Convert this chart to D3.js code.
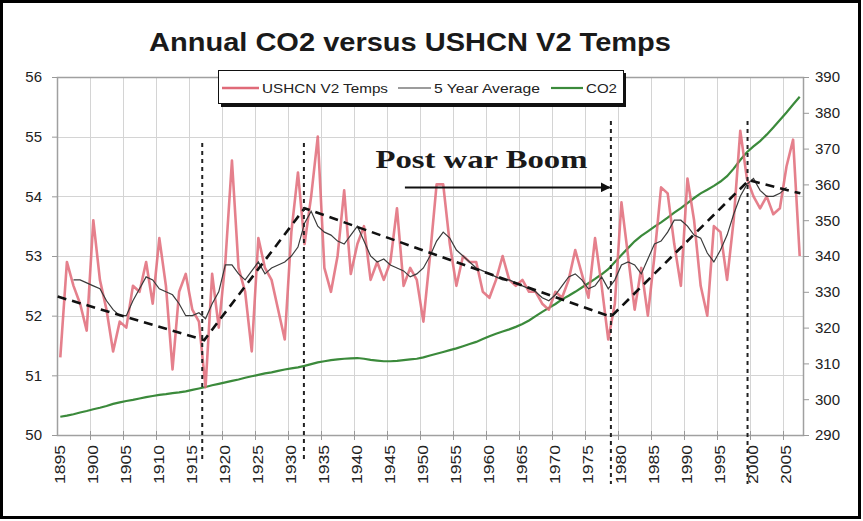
<!DOCTYPE html>
<html>
<head>
<meta charset="utf-8">
<script src="https://cdn.jsdelivr.net/npm/d3@7"></script>
<style>
  body { margin: 0; background: #fff; }
  svg { display: block; font-family: "Liberation Sans", Arial, sans-serif; }
</style>
</head>
<body>
<div id="chart"></div>
<script>
'use strict';

// data
var firstYear = 1895;
var lastYear = 2007;

// annual USHCN V2 temps (deg F), 1895..2007
var temps = [
  51.3, 52.9, 52.5, 52.2, 51.75, 53.6, 52.6, 52.1, 51.4, 51.9,
  51.8, 52.5, 52.4, 52.9, 52.2, 53.3, 52.5, 51.1, 52.4, 52.7,
  52.1, 51.9, 50.8, 52.7, 51.8, 52.9, 54.6, 52.8, 52.4, 51.4,
  53.3, 52.8, 52.6, 52.1, 51.6, 53.4, 54.4, 53.2, 54.0, 55.0,
  52.8, 52.4, 53.0, 54.1, 52.7, 53.2, 53.5, 52.6, 52.9, 52.6,
  52.9, 53.8, 52.5, 52.8, 52.6, 51.9, 53.0, 54.2, 54.2, 53.2,
  52.5, 53.0, 52.9, 52.9, 52.4, 52.3, 52.6, 53.0, 52.6, 52.5,
  52.6, 52.4, 52.4, 52.2, 52.1, 52.4, 52.3, 52.6, 53.1, 52.7,
  52.3, 53.3, 52.5, 51.6, 52.2, 53.9, 53.0, 52.1, 52.8, 52.0,
  53.0, 54.15, 54.05, 53.2, 52.5, 54.3, 53.6, 52.5, 52.0, 53.5,
  53.4, 52.6, 53.6, 55.1, 54.3, 54.0, 53.8, 54.0, 53.7, 53.8,
  54.5, 54.95, 53.0
];

// 5 year average, 1897..2005
var avgFirstYear = 1897;
var avg5 = [
  52.6, 52.6, 52.55, 52.5, 52.45, 52.25, 52.1, 52.0, 52.0, 52.25,
  52.45, 52.65, 52.6, 52.45, 52.4, 52.35, 52.2, 52.0, 52.0, 52.05,
  51.95, 52.2, 52.4, 52.85, 52.85, 52.7, 52.6, 52.75, 52.9, 52.7,
  52.8, 52.85, 52.9, 53.0, 53.15, 53.55, 53.75, 53.5, 53.4, 53.35,
  53.25, 53.2, 53.35, 53.5, 53.25, 53.0, 52.9, 52.95, 52.85, 52.8,
  52.75, 52.65, 52.7, 52.8, 53.0, 53.25, 53.4, 53.3, 53.1, 53.0,
  52.9, 52.8, 52.75, 52.7, 52.65, 52.6, 52.6, 52.55, 52.5, 52.45,
  52.4, 52.3, 52.25, 52.35, 52.5, 52.65, 52.7, 52.6, 52.45, 52.5,
  52.65, 52.45, 52.6, 52.85, 52.9, 52.85, 52.7, 52.95, 53.2, 53.25,
  53.4, 53.6, 53.6, 53.5, 53.35, 53.3, 53.05, 52.9, 53.1, 53.35,
  53.7, 54.0, 54.2, 54.3, 54.1, 54.0, 54.0, 54.05, 54.15
];

// CO2 (ppm), 1895..2007
var co2 = [
  295.1, 295.4, 295.8, 296.3, 296.7, 297.2, 297.6, 298.1, 298.7, 299.1,
  299.5, 299.8, 300.2, 300.6, 300.9, 301.2, 301.4, 301.7, 301.9, 302.2,
  302.6, 303.0, 303.4, 303.9, 304.3, 304.7, 305.1, 305.5, 306.0, 306.4,
  306.8, 307.2, 307.5, 307.9, 308.3, 308.6, 308.9, 309.3, 309.8, 310.3,
  310.6, 310.9, 311.1, 311.3, 311.4, 311.5, 311.3, 311.0, 310.8, 310.6,
  310.6, 310.7, 310.9, 311.1, 311.3, 311.7, 312.2, 312.7, 313.2, 313.7,
  314.2, 314.8, 315.4, 316.0, 316.8, 317.6, 318.3, 318.9, 319.5, 320.2,
  321.0, 322.0, 323.2, 324.4, 325.5, 326.6, 327.9, 328.9, 330.0, 331.2,
  332.4, 333.6, 334.9, 336.3, 338.3, 340.3, 342.2, 344.1, 345.6, 346.9,
  348.2, 349.4, 350.7, 352.1, 353.4, 354.8, 356.2, 357.5, 358.5, 359.6,
  360.8, 362.3, 364.4, 366.8, 369.0, 370.6, 372.1, 373.9, 375.9, 378.0,
  380.1, 382.3, 384.5
];

// hand drawn trend (dashed) : [year, temp]
var trendYears = [1894.6, 1916.8, 1932.0, 1978.4, 1999.3, 2007.1];
var trendTemps = [52.32, 51.59, 53.8, 51.98, 54.27, 54.05];

// vertical dashed markers
var markerYears = [1916.5, 1931.9, 1978.4, 1999.1];

// axis ticks
var leftTicks = [50, 51, 52, 53, 54, 55, 56];
var rightTicks = [290, 300, 310, 320, 330, 340, 350, 360, 370, 380, 390];
var labelYears = d3.range(1895, 2006, 5);

var width = 863;
var height = 521;
var plot = { left: 57, right: 803, top: 77, bottom: 435 };

var svg = d3.select('#chart')
  .append('svg')
  .attr('width', width)
  .attr('height', height);

// scales (years as continuous, each year sits in the middle of its slot)
var x = d3.scaleLinear()
  .domain([firstYear - 0.5, lastYear + 0.5])
  .range([plot.left, plot.right]);
var yL = d3.scaleLinear().domain([50, 56]).range([plot.bottom, plot.top]);
var yR = d3.scaleLinear().domain([290, 390]).range([plot.bottom, plot.top]);

// outer frame
svg.append('rect')
  .attr('x', 1.5).attr('y', 1.5)
  .attr('width', 858).attr('height', 516)
  .attr('fill', '#fff')
  .attr('stroke', '#000')
  .attr('stroke-width', 3);

// title
svg.append('text')
  .attr('x', 410).attr('y', 51)
  .attr('text-anchor', 'middle')
  .attr('font-size', 25)
  .attr('font-weight', 'bold')
  .attr('fill', '#1a1a1a')
  .attr('textLength', 522)
  .attr('lengthAdjust', 'spacingAndGlyphs')
  .text('Annual CO2 versus USHCN V2 Temps');

// grid
var grid = svg.append('g').attr('stroke', '#d4d4d4').attr('stroke-width', 1);
grid.selectAll('.hg')
  .data([51, 52, 53, 54, 55])
  .enter().append('line')
  .attr('x1', plot.left).attr('x2', plot.right)
  .attr('y1', function(d) { return Math.round(yL(d)) + 0.5; })
  .attr('y2', function(d) { return Math.round(yL(d)) + 0.5; });
var gridYears = d3.range(firstYear + 4.5, lastYear, 5);
grid.selectAll('.vg')
  .data(gridYears)
  .enter().append('line')
  .attr('y1', plot.top).attr('y2', plot.bottom)
  .attr('x1', function(d) { return Math.round(x(d)) + 0.5; })
  .attr('x2', function(d) { return Math.round(x(d)) + 0.5; });

// plot border / axes lines
svg.append('rect')
  .attr('x', plot.left + 0.5).attr('y', plot.top + 0.5)
  .attr('width', plot.right - plot.left).attr('height', plot.bottom - plot.top)
  .attr('fill', 'none')
  .attr('stroke', '#a0a0a0')
  .attr('stroke-width', 1.5);

// left axis
var leftAxis = d3.axisLeft(yL).tickValues(leftTicks).tickSize(5).tickPadding(10)
  .tickFormat(d3.format('d'));
var gl = svg.append('g')
  .attr('transform', 'translate(' + plot.left + ',0)')
  .call(leftAxis);
gl.select('.domain').remove();
gl.selectAll('line').attr('stroke', '#999');
gl.selectAll('text')
  .attr('font-size', 15).attr('fill', '#222')
  .style('font-family', '"Liberation Sans", Arial, sans-serif');

// right axis
var rightAxis = d3.axisRight(yR).tickValues(rightTicks).tickSize(6).tickPadding(6)
  .tickFormat(d3.format('d'));
var gr = svg.append('g')
  .attr('transform', 'translate(' + plot.right + ',0)')
  .call(rightAxis);
gr.select('.domain').remove();
gr.selectAll('line').attr('stroke', '#999');
gr.selectAll('text')
  .attr('font-size', 15).attr('fill', '#222')
  .style('font-family', '"Liberation Sans", Arial, sans-serif');

// bottom ticks (at the 5 year slot boundaries)
svg.append('g').selectAll('line')
  .data(gridYears)
  .enter().append('line')
  .attr('x1', function(d) { return Math.round(x(d)) + 0.5; })
  .attr('x2', function(d) { return Math.round(x(d)) + 0.5; })
  .attr('y1', plot.bottom - 4).attr('y2', plot.bottom + 5)
  .attr('stroke', '#999');

// rotated year labels
svg.append('g').selectAll('text')
  .data(labelYears)
  .enter().append('text')
  .attr('transform', function(d) {
    return 'translate(' + (x(d) + 5) + ',' + 445 + ') rotate(-90)';
  })
  .attr('text-anchor', 'end')
  .attr('font-size', 14)
  .attr('fill', '#222')
  .attr('textLength', 39)
  .attr('lengthAdjust', 'spacingAndGlyphs')
  .text(function(d) { return d; });

// series
var tempData = temps.map(function(v, i) { return { year: firstYear + i, v: v }; });
var avgData = avg5.map(function(v, i) { return { year: avgFirstYear + i, v: v }; });
var co2Data = co2.map(function(v, i) { return { year: firstYear + i, v: v }; });
var trendData = trendYears.map(function(yr, i) { return { year: yr, v: trendTemps[i] }; });

var lineL = d3.line()
  .x(function(d) { return x(d.year); })
  .y(function(d) { return yL(d.v); });
var lineR = d3.line()
  .x(function(d) { return x(d.year); })
  .y(function(d) { return yR(d.v); });

svg.append('path')
  .datum(co2Data)
  .attr('d', lineR)
  .attr('fill', 'none')
  .attr('stroke', '#3b8a3b')
  .attr('stroke-width', 2.2);

svg.append('path')
  .datum(tempData)
  .attr('d', lineL)
  .attr('fill', 'none')
  .attr('stroke', '#e06a78')
  .attr('stroke-opacity', 0.85)
  .attr('stroke-width', 2.6)
  .attr('stroke-linejoin', 'round');

svg.append('path')
  .datum(avgData)
  .attr('d', lineL)
  .attr('fill', 'none')
  .attr('stroke', '#3a3a3a')
  .attr('stroke-width', 1.2);

svg.append('path')
  .datum(trendData)
  .attr('d', lineL)
  .attr('fill', 'none')
  .attr('stroke', '#111')
  .attr('stroke-width', 2.6)
  .attr('stroke-dasharray', '9,6');

// vertical markers
svg.append('g').selectAll('line')
  .data(markerYears)
  .enter().append('line')
  .attr('x1', function(d) { return x(d); })
  .attr('x2', function(d) { return x(d); })
  .attr('y1', function(d, i) { return i < 2 ? 143 : 121; })
  .attr('y2', function(d, i) { return i < 2 ? 462 : 484; })
  .attr('stroke', '#222')
  .attr('stroke-width', 2)
  .attr('stroke-dasharray', '4,4');

// Post war Boom note + arrow
svg.append('text')
  .attr('x', x(1958.8)).attr('y', yL(54.47))
  .attr('text-anchor', 'middle')
  .attr('font-family', '"Liberation Serif", "Times New Roman", serif')
  .attr('font-size', 26)
  .attr('font-weight', 'bold')
  .attr('fill', '#1a1a1a')
  .attr('textLength', 212)
  .attr('lengthAdjust', 'spacingAndGlyphs')
  .text('Post war Boom');

svg.append('defs').append('marker')
  .attr('id', 'arrow')
  .attr('viewBox', '0 0 10 10')
  .attr('refX', 9).attr('refY', 5)
  .attr('markerWidth', 5).attr('markerHeight', 5)
  .attr('orient', 'auto')
  .append('path')
  .attr('d', 'M0,0L10,5L0,10z')
  .attr('fill', '#111');

svg.append('line')
  .attr('x1', x(1947.2)).attr('x2', x(1978.2))
  .attr('y1', yL(54.15)).attr('y2', yL(54.15))
  .attr('stroke', '#111')
  .attr('stroke-width', 2)
  .attr('marker-end', 'url(#arrow)');

// legend
var legend = svg.append('g');
legend.append('rect')
  .attr('x', 221).attr('y', 73)
  .attr('width', 405).attr('height', 34)
  .attr('fill', '#111');
legend.append('rect')
  .attr('x', 218.5).attr('y', 70.5)
  .attr('width', 405).attr('height', 33)
  .attr('fill', '#fff')
  .attr('stroke', '#111')
  .attr('stroke-width', 1);

var legendItems = [
  { label: 'USHCN V2 Temps', x1: 222, x2: 259, tx: 262, tw: 126, color: '#e06a78', w: 2.6 },
  { label: '5 Year Average', x1: 398, x2: 431, tx: 434, tw: 106, color: '#3a3a3a', w: 1.2 },
  { label: 'CO2', x1: 551, x2: 583, tx: 586, tw: 31, color: '#3b8a3b', w: 2.2 }
];
var li = legend.selectAll('.item')
  .data(legendItems)
  .enter().append('g');
li.append('line')
  .attr('x1', function(d) { return d.x1; })
  .attr('x2', function(d) { return d.x2; })
  .attr('y1', 88).attr('y2', 88)
  .attr('stroke', function(d) { return d.color; })
  .attr('stroke-width', function(d) { return d.w; });
li.append('text')
  .attr('x', function(d) { return d.tx; })
  .attr('y', 93)
  .attr('font-size', 13)
  .attr('fill', '#222')
  .attr('textLength', function(d) { return d.tw; })
  .attr('lengthAdjust', 'spacingAndGlyphs')
  .text(function(d) { return d.label; });
</script>
</body>
</html>
